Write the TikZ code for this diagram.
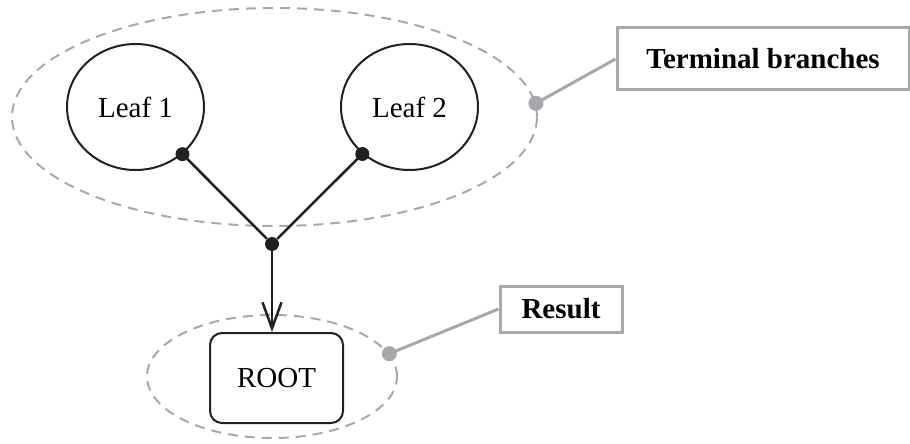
\documentclass[tikz,border=0pt]{standalone}
\usepackage{fontspec}
\setmainfont{Liberation Serif}
\usetikzlibrary{arrows.meta,shapes.geometric}
\definecolor{inkblack}{RGB}{35,31,32}
\definecolor{hullgray}{RGB}{168,168,172}
\tikzset{
  leaf/.style={ellipse, draw=inkblack, line width=1pt, minimum width=68.5pt, minimum height=63pt, inner sep=0pt},
  hull/.style={ellipse, draw=hullgray, line width=1pt, dash pattern=on 5pt off 3.5pt, inner sep=0pt},
  tag/.style={draw=hullgray, line width=1.5pt, font=\bfseries\fontsize{14.5pt}{17pt}\selectfont, inner sep=0pt},
  branch/.style={draw=inkblack, line width=1.25pt},
  dot/.style={circle, fill=inkblack, inner sep=0pt, minimum size=7pt},
  pin/.style={draw=hullgray, line width=1.5pt},
}

\begin{document}
\begin{tikzpicture}[x=0.5pt, y=-0.5pt, font=\fontsize{14.5pt}{17pt}\selectfont]
\useasboundingbox (0,0) rectangle (910,444);
%%%%% Groups %%%%%
\node[hull, minimum width=262.5pt, minimum height=109pt] (leafhull) at (274.5,117) {};
\node[hull, minimum width=125pt, minimum height=61.5pt] (roothull) at (272,376.5) {};
%%%%% Nodes %%%%%
\node[leaf] (leaf1) at (135.5,107) {Leaf 1};
\node[leaf] (leaf2) at (409.5,107) {Leaf 2};
\node[dot] (junc) at (272,244) {};
\node[draw=inkblack, line width=1pt, rounded corners=6pt, minimum width=66.5pt, minimum height=45pt] (root) at (276.5,378) {ROOT};
%%%%% Branches %%%%%
\foreach \lf in {leaf1,leaf2}{
\draw[branch] (\lf) -- (junc) coordinate[pos=0] (\lf-tip);
\node[dot] at (\lf-tip) {};
}
\draw[branch, -{Straight Barb[length=13pt, width=9.5pt]}] (junc) -- (junc |- root.north);
%%%%% Callouts %%%%%
\node[tag, minimum width=146pt, minimum height=31pt] (lbterm) at (763,59) {Terminal branches};
\node[tag, minimum width=61pt, minimum height=23pt] (lbres) at (561,309) {Result};
\coordinate (pinterm) at (leafhull.3);
\coordinate (pinres) at (roothull.11);
\draw[pin] (pinterm) -- (lbterm.west);
\draw[pin] (pinres) -- (lbres.west);
\fill[hullgray] (pinterm) circle[radius=3.75pt];
\fill[hullgray] (pinres) circle[radius=3.75pt];
\end{tikzpicture}
\end{document}
